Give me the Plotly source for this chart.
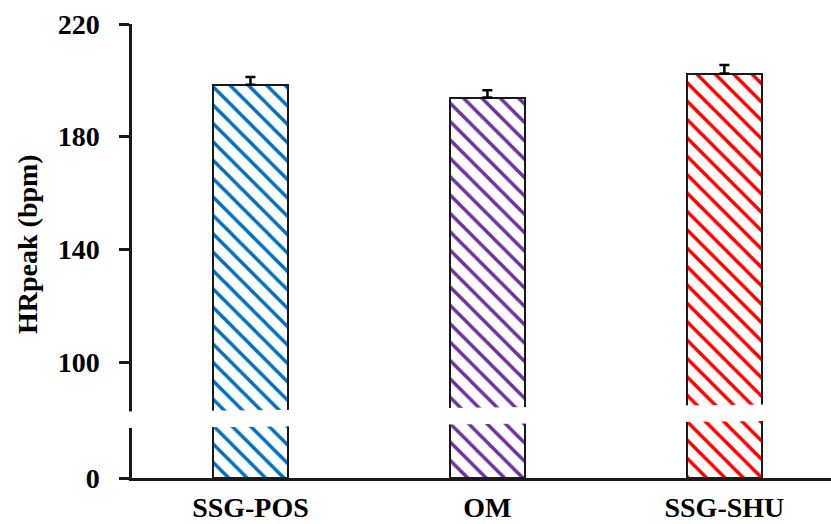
import plotly.graph_objects as go

# Peak heart rate per training format
categories = ["SSG-POS", "OM", "SSG-SHU"]
hr_peak = [198.4, 193.9, 202.4]
hr_err = [2.8, 2.6, 3.0]
bar_colors = ["#0070C0", "#7030A0", "#FF0000"]

top_ticks = [100, 140, 180, 220]
bottom_ticks = [0]

# Page geometry (pixels)
W, H = 831, 524
ML, MR, MT, MB = 132, 0, 24, 46
plot_w = W - ML - MR
plot_h = H - MT - MB
y_split = 418                          # pixel row where the two y segments meet
px_per_unit = (362 - MT) / (220 - 100)  # 100 sits at row 362, 220 at the top edge

split_frac = (H - MB - y_split) / plot_h
top_lo = 220 - (y_split - MT) / px_per_unit
bottom_hi = (H - MB - y_split) / px_per_unit

font = dict(family="Liberation Serif, Times New Roman, serif", size=28, color="black", weight="bold")

fig = go.Figure()


def bars(yaxis, with_err):
    return go.Bar(
        x=categories,
        y=hr_peak,
        width=0.316,
        marker=dict(
            color="white",
            line=dict(color="#1a1a1a", width=2),
            pattern=dict(shape="\\", fgcolor=bar_colors, bgcolor="white",
                         fgopacity=1, size=13, solidity=0.27, fillmode="overlay"),
        ),
        error_y=dict(type="data", symmetric=False, array=hr_err,
                     arrayminus=[0] * len(hr_err), color="black",
                     thickness=2.5, width=5, visible=with_err),
        xaxis="x",
        yaxis=yaxis,
        showlegend=False,
    )


# upper segment carries the error bars, lower segment shows the bar bases
fig.add_trace(bars("y2", True))
fig.add_trace(bars("y", False))

axis_line = dict(showline=True, linecolor="#1a1a1a", linewidth=2.5,
                 ticks="outside", ticklen=10, tickwidth=2.5, tickcolor="#1a1a1a",
                 showgrid=False, zeroline=False, tickfont=font,
                 ticklabelstandoff=14, automargin=False)

fig.update_layout(
    width=W, height=H,
    margin=dict(l=ML, r=MR, t=MT, b=MB),
    plot_bgcolor="white", paper_bgcolor="white",
    bargap=0,
    xaxis=dict(range=[-0.5, 2.45], showline=True, linecolor="#1a1a1a", linewidth=2.5,
               ticks="", showgrid=False, zeroline=False, tickfont=font,
               anchor="y", automargin=False, ticklabelstandoff=3),
    yaxis=dict(domain=[0, split_frac], range=[0, bottom_hi], tickvals=bottom_ticks,
               **axis_line),
    yaxis2=dict(domain=[split_frac, 1], range=[top_lo, 220], tickvals=top_ticks,
                anchor="x", **axis_line),
)


def to_paper(px, py):
    return (px - ML) / plot_w, (H - MB - py) / plot_h


# Slanted white band marking the break in the value axis
band_top_left, band_slope, band_h = 411.5, -0.011, 16.5
x0, x1 = 124, W + 2
p1 = to_paper(x0, band_top_left + band_slope * (x0 - ML))
p2 = to_paper(x1, band_top_left + band_slope * (x1 - ML))
p3 = to_paper(x1, band_top_left + band_slope * (x1 - ML) + band_h)
p4 = to_paper(x0, band_top_left + band_slope * (x0 - ML) + band_h)
path = "M {} {} L {} {} L {} {} L {} {} Z".format(*p1, *p2, *p3, *p4)
fig.add_shape(type="path", path=path, xref="paper", yref="paper",
              fillcolor="white", line=dict(width=0), layer="above")

tx, ty = to_paper(27, 244)
fig.add_annotation(text="HRpeak (bpm)", x=tx, y=ty, xref="paper", yref="paper",
                   textangle=-90, showarrow=False, xanchor="center", yanchor="middle",
                   font=font)

fig.write_html("out.html")
